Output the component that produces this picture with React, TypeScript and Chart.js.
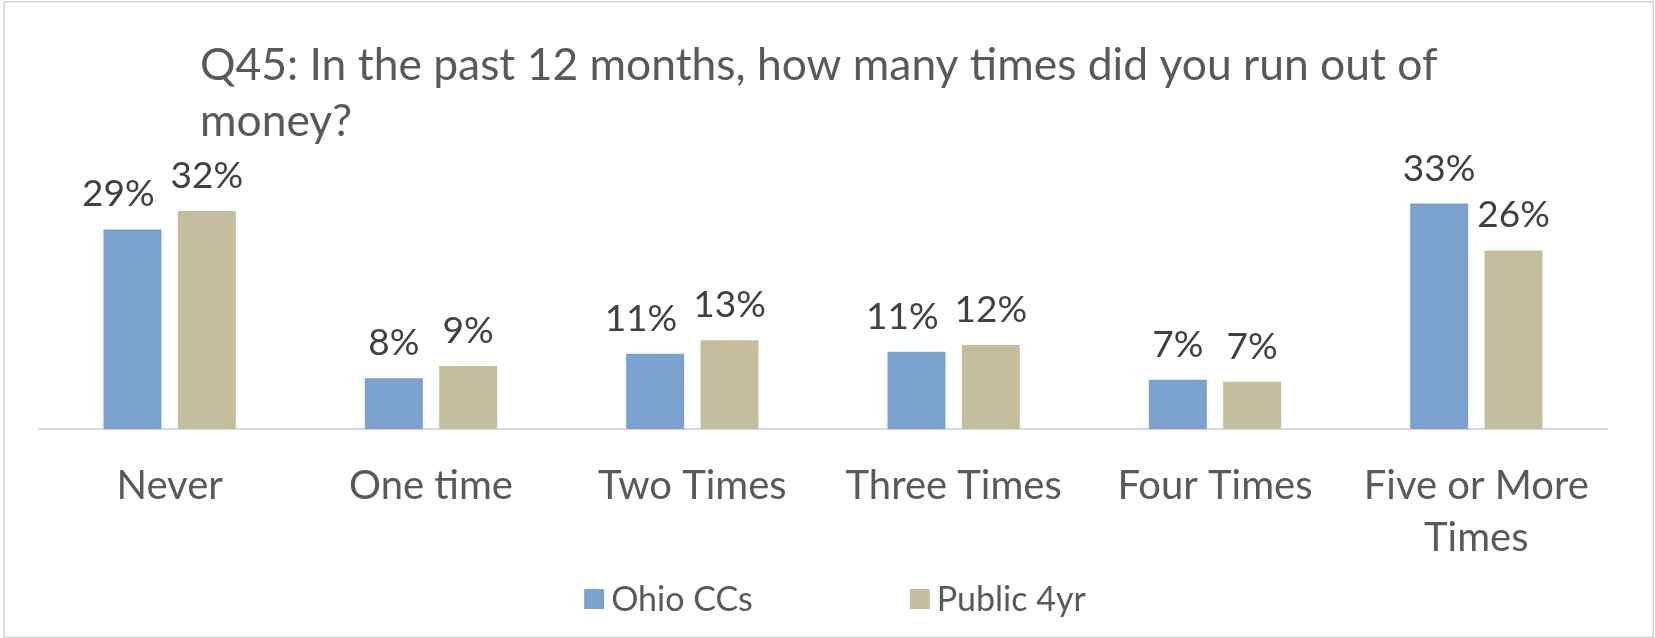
import React, { useEffect, useRef } from "react";
import { Chart, registerables } from "chart.js";

Chart.register(...registerables);

const categories: (string | string[])[] = [
  "Never",
  "One time",
  "Two Times",
  "Three Times",
  "Four Times",
  ["Five or More", "Times"],
];
const ohioCCs = [29.4, 7.5, 11.1, 11.4, 7.3, 33.2];
const public4yr = [32.1, 9.3, 13.1, 12.4, 7.0, 26.3];
const seriesNames = ["Ohio CCs", "Public 4yr"];
const seriesColors = ["#7BA1CE", "#C4BE9F"];
const titleLines = [
  "Q45: In the past 12 months, how many times did you run out of",
  "money?",
];

const FONT = "Lato, 'Open Sans', sans-serif";

const framePlugin = {
  id: "frame",
  afterDraw(chart: any) {
    const ctx = chart.ctx;
    ctx.save();
    ctx.strokeStyle = "#d4d4d4";
    ctx.lineWidth = 1.5;
    ctx.strokeRect(4.25, 1.75, 1649, 635.5);
    ctx.restore();
  },
};

const titlePlugin = {
  id: "customTitle",
  afterDraw(chart: any) {
    const ctx = chart.ctx;
    ctx.save();
    ctx.fillStyle = "#595959";
    ctx.font = `44.4px ${FONT}`;
    ctx.textAlign = "left";
    ctx.textBaseline = "alphabetic";
    titleLines.forEach((t, i) => ctx.fillText(t, 200, 80 + i * 56));
    ctx.restore();
  },
};

const valueLabelPlugin = {
  id: "valueLabels",
  afterDatasetsDraw(chart: any) {
    const ctx = chart.ctx;
    ctx.save();
    ctx.fillStyle = "#404040";
    ctx.font = `37px ${FONT}`;
    ctx.textAlign = "center";
    ctx.textBaseline = "alphabetic";
    const ds0 = chart.data.datasets[0];
    const ds1 = chart.data.datasets[1];
    const m0 = chart.getDatasetMeta(0);
    const m1 = chart.getDatasetMeta(1);
    const minGap = 16;
    const textH = 30;
    m0.data.forEach((b0: any, i: number) => {
      const b1 = m1.data[i];
      const t0 = Math.round(ds0.data[i]) + "%";
      const t1 = Math.round(ds1.data[i]) + "%";
      const w0 = ctx.measureText(t0).width;
      const w1 = ctx.measureText(t1).width;
      let x0 = b0.x;
      let x1 = b1.x;
      const y0 = b0.y - 23;
      const y1 = b1.y - 23;
      const overlap = x0 + w0 / 2 + minGap - (x1 - w1 / 2);
      if (overlap > 0 && Math.abs(y0 - y1) < textH) {
        if (ds0.data[i] <= ds1.data[i]) x0 -= overlap;
        else x1 += overlap;
      }
      ctx.fillText(t0, x0, y0);
      ctx.fillText(t1, x1, y1);
    });
    ctx.restore();
  },
};

const legendPlugin = {
  id: "customLegend",
  afterDraw(chart: any) {
    const ctx = chart.ctx;
    ctx.save();
    ctx.font = `34px ${FONT}`;
    ctx.textBaseline = "middle";
    ctx.textAlign = "left";
    const box = 20;
    const gapText = 7;
    const gapItems = 157;
    const widths = chart.data.datasets.map(
      (ds: any) => box + gapText + ctx.measureText(ds.label).width
    );
    const total = widths.reduce((a: number, b: number) => a + b, 0) + gapItems * (widths.length - 1);
    let x = 835 - total / 2;
    const cy = 599;
    chart.data.datasets.forEach((ds: any, i: number) => {
      ctx.fillStyle = ds.backgroundColor;
      ctx.fillRect(x, cy - box / 2, box, box);
      ctx.fillStyle = "#595959";
      ctx.fillText(ds.label, x + box + gapText, cy + 1);
      x += widths[i] + gapItems;
    });
    ctx.restore();
  },
};

export default function App() {
  const ref = useRef<HTMLCanvasElement | null>(null);

  useEffect(() => {
    if (!ref.current) return;
    const chart = new Chart(ref.current, {
      type: "bar",
      data: {
        labels: categories,
        datasets: [
          {
            label: seriesNames[0],
            data: ohioCCs,
            backgroundColor: seriesColors[0],
            barPercentage: 0.78,
            categoryPercentage: 0.569,
          },
          {
            label: seriesNames[1],
            data: public4yr,
            backgroundColor: seriesColors[1],
            barPercentage: 0.78,
            categoryPercentage: 0.569,
          },
        ],
      },
      options: {
        responsive: false,
        animation: false,
        devicePixelRatio: 1,
        layout: { padding: { top: 157.3, left: 39, right: 48, bottom: 0 } },
        plugins: {
          legend: { display: false },
          title: { display: false },
          tooltip: { enabled: false },
        },
        scales: {
          x: {
            grid: { display: false },
            border: { display: true, color: "#d9d9d9", width: 2 },
            ticks: {
              color: "#595959",
              padding: 23,
              maxRotation: 0,
              autoSkip: false,
              font: { family: FONT, size: 40, lineHeight: 1.3 },
            },
            afterFit(scale: any) {
              scale.height = 208.7;
            },
          },
          y: {
            display: false,
            min: 0,
            max: 40,
          },
        },
      },
      plugins: [framePlugin, titlePlugin, valueLabelPlugin, legendPlugin],
    });
    return () => chart.destroy();
  }, []);

  return (
    <div style={{ position: "absolute", left: 0, top: 0, width: 1655, height: 638, background: "#fff" }}>
      <canvas ref={ref} width={1655} height={638} style={{ display: "block" }} />
    </div>
  );
}
